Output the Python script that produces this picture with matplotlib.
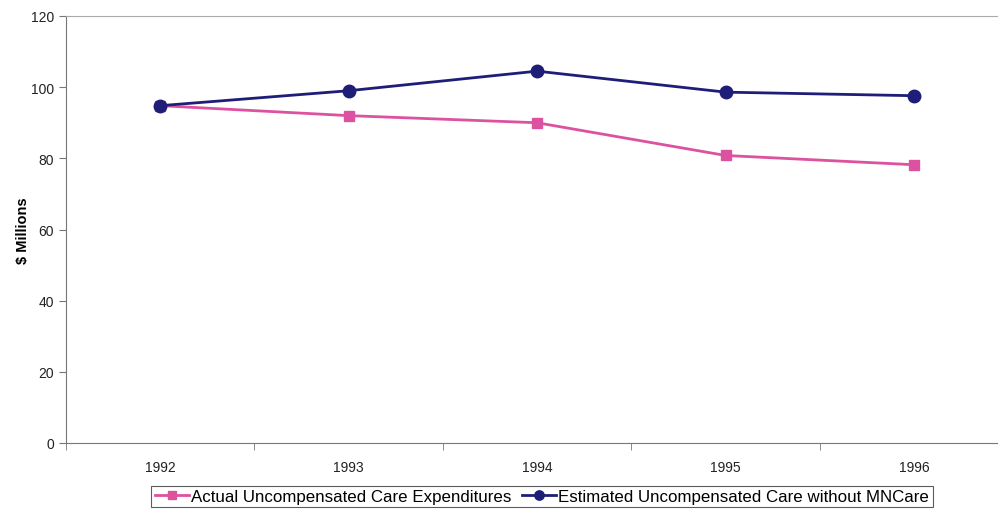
import matplotlib
matplotlib.use("Agg")
import matplotlib.pyplot as plt
from matplotlib.ticker import MultipleLocator, FixedLocator, NullFormatter

years = ["1992", "1993", "1994", "1995", "1996"]
actual = [94.8, 92.0, 90.0, 80.8, 78.2]
estimated = [94.8, 99.0, 104.5, 98.6, 97.6]

plt.rcParams['font.family'] = ['Liberation Sans', 'DejaVu Sans']

W, H = 998, 510
fig = plt.figure(figsize=(W / 100, H / 100), dpi=100)
# axes from x=66 to the right edge, y=17..444 (pixels)
ax = fig.add_axes([66 / W, 1 - 444 / H, 1 - 66 / W, (444 - 17) / H])

x = list(range(len(years)))
ax.plot(x, actual, color="#dd52a0", lw=2, marker="s", ms=7, mec="#dd52a0",
        label="Actual Uncompensated Care Expenditures", clip_on=False)
ax.plot(x, estimated, color="#1e1e78", lw=2, marker="o", ms=9, mec="#1e1e78",
        label="Estimated Uncompensated Care without MNCare", clip_on=False)

ax.set_xlim(-0.5, (998 - 160) / 188.5)
ax.set_ylim(0, 120)
ax.yaxis.set_major_locator(MultipleLocator(20))
ax.set_xticks(x)
ax.set_xticklabels(years)
ax.xaxis.set_minor_locator(FixedLocator([i - 0.5 for i in range(len(years) + 1)]))
ax.xaxis.set_minor_formatter(NullFormatter())
ax.tick_params(axis="x", which="major", length=0, pad=12, labelsize=10, colors="#222222")
ax.tick_params(axis="x", which="minor", length=5, color="#777777")
ax.tick_params(axis="y", length=5, color="#777777", labelsize=10, labelcolor="#222222")

for s in ["left", "bottom"]:
    ax.spines[s].set_color("#777777")
ax.spines["top"].set_color("#aaaaaa")
ax.spines["right"].set_visible(False)

ax.set_ylabel("$ Millions", fontsize=10.5, fontweight="bold", labelpad=1)

leg = fig.legend(loc="lower center", bbox_to_anchor=(542 / W, 0.003), ncol=2,
                 frameon=True, fancybox=False, fontsize=12.2, handlelength=2.0,
                 handletextpad=0.15, columnspacing=0.6, borderpad=0.2,
                 borderaxespad=0, markerscale=0.75)
leg.get_frame().set_edgecolor("#333333")
leg.get_frame().set_linewidth(0.8)

fig.savefig("out.png", dpi=100)
